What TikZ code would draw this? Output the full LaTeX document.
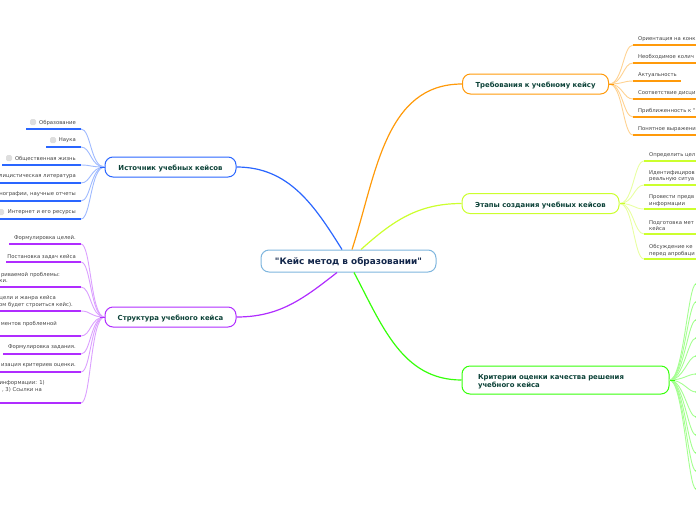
\documentclass[tikz,border=0pt]{standalone}
\usepackage{fontspec}
\setmainfont[Ligatures=TeXOff]{DejaVu Sans}

\definecolor{rootline}{HTML}{7FB6DE}
\definecolor{rootink}{HTML}{12264A}
\definecolor{headink}{HTML}{0C4238}
\definecolor{leafink}{HTML}{444444}
\definecolor{srccol}{HTML}{2A66FF}
\definecolor{strcol}{HTML}{B02DFF}
\definecolor{reqcol}{HTML}{FF9A0A}
\definecolor{stgcol}{HTML}{CCFF2E}
\definecolor{crtcol}{HTML}{36FF0A}

\tikzset{
  rootbox/.style={draw=rootline,line width=1pt,rounded corners=8pt,fill=white,text=rootink,
    font=\bfseries\fontsize{8.9}{10}\selectfont,minimum width=175pt,minimum height=22pt,inner sep=0pt,
    text height=8.5pt,text depth=2pt},
  headbox/.style={draw=#1,line width=1pt,rounded corners=8pt,fill=white,text=headink,
    font=\bfseries\fontsize{6.9}{8.4}\selectfont,inner sep=0pt,align=left},
  headline/.style={minimum width=#1,minimum height=20pt,align=center,text height=8.5pt,text depth=1.5pt},
  leaftext/.style={text=leafink,font=\fontsize{5.3}{7}\selectfont,inner sep=0pt},
  rule/.style={draw=#1,line width=1.4pt},
  twig/.style={draw=#1!45,line width=.9pt},
  limb/.style={draw=#1,line width=1.2pt},
  tick/.style={draw=none,fill=black!13,rounded corners=1.5pt,minimum size=6pt,inner sep=0pt}
}

\begin{document}
\begin{tikzpicture}[x=1pt,y=-1pt]
\useasboundingbox (0,0) rectangle (696,520);

% centre and branches
\node[rootbox] (root) at (348.5,261) {"Кейс метод в образовании"};
\node[headbox=srccol,headline=131pt] (source) at (170.5,167) {Источник учебных кейсов};
\node[headbox=strcol,headline=131pt] (struct) at (170.5,317) {Структура учебного кейса};
\node[headbox=reqcol,headline=146pt] (reqs) at (535.5,84) {Требования к учебному кейсу};
\node[headbox=stgcol,headline=157pt] (stages) at (540.5,203.5) {Этапы создания учебных кейсов};
\node[headbox=crtcol,minimum width=207pt,minimum height=28pt,text width=175pt] (crit) at (565.5,380) {\rule{0pt}{8.5pt}Критерии оценки качества решения\\учебного кейса};

% limbs
\path[limb=srccol] ([xshift=-6.5pt]root.north) to[out=122,in=0] (source.east);
\path[limb=reqcol] ([xshift=3.5pt]root.north) to[out=72,in=180] (reqs.west);
\path[limb=stgcol] ([xshift=12.5pt]root.north) to[out=42,in=180] (stages.west);
\path[limb=strcol] ([xshift=-11.5pt]root.south) to[out=218,in=0] (struct.east);
\path[limb=crtcol] ([xshift=5.5pt]root.south) to[out=-62,in=180] (crit.west);

% source leaves
\foreach \i/\y/\x/\t in {1/129/26/Образование,2/147/46/Наука,3/165/2/Общественная жизнь,
    4/183/0/лицистическая литература,5/201/0/{нографии, научные отчеты},6/219/0/Интернет и его ресурсы}{
  \coordinate (sj\i) at (81,\y);
  \coordinate (se\i) at (\x,\y);
  \path[twig=srccol] (source.west) to[out=180,in=0,out distance=14pt,in distance=10pt] (sj\i);
  \path[rule=srccol] (sj\i) -- (se\i);
  \node[leaftext,anchor=east] (sl\i) at (76,\y-6.5) {\t};
}
\path[rule=srccol,line width=1pt] (source.west) -- ++(-5,0);
\node[tick] (st1) at (33,122) {};
\node[tick] (st2) at (53,140) {};
\node[tick] (st3) at (9,158) {};
\node[tick] (st6) at (1,212) {};

% structure leaves
\foreach \i/\y/\x in {1/244/9,2/262/6,3/287/0,4/311/0,5/336/0,6/354/3,7/372/0,8/403/0}{
  \coordinate (tj\i) at (81,\y);
  \coordinate (te\i) at (\x,\y);
  \path[twig=strcol] (struct.west) to[out=180,in=0,out distance=14pt,in distance=10pt] (tj\i);
  \path[rule=strcol] (tj\i) -- (te\i);
}
\path[rule=strcol,line width=1pt] (struct.west) -- ++(-5,0);
\foreach \i/\y/\x/\t in {1/238.5/76/Формулировка целей.,2/256.5/76/Постановка задач кейса,
    3/274.5/60/риваемой проблемы:,4/281/8/ки.,5/298.5/56/цели и жанра кейса,
    6/305/73/ом будет строиться кейс).,7/323.5/57/ментов проблемной,8/347.5/76/Формулировка задания.,
    9/365.5/76/изация критериев оценки.,10/383.5/45/информации: 1),11/390/42/{, 3) Ссылки на}}{
  \node[leaftext,anchor=east] (tl\i) at (\x,\y) {\t};
}

% requirement leaves
\foreach \i/\y/\x/\t in {1/45/696/Ориентация на конк,2/63/696/Необходимое колич,3/81/681/Актуальность,
    4/99/696/Соответствие дисци,5/117/696/Приближенность к ",6/135/696/Понятное выражени}{
  \coordinate (rj\i) at (633,\y);
  \coordinate (re\i) at (\x,\y);
  \path[twig=reqcol] (reqs.east) to[out=0,in=180,out distance=14pt,in distance=10pt] (rj\i);
  \path[rule=reqcol] (rj\i) -- (re\i);
  \node[leaftext,anchor=west] (rl\i) at (638,\y-6) {\t};
}
\path[rule=reqcol,line width=1pt] (reqs.east) -- ++(5,0);

% stage leaves
\foreach \i/\y in {1/161,2/185,3/209,4/234,5/259}{
  \coordinate (gj\i) at (644,\y);
  \coordinate (ge\i) at (696,\y);
  \path[twig=stgcol] (stages.east) to[out=0,in=180,out distance=14pt,in distance=10pt] (gj\i);
  \path[rule=stgcol] (gj\i) -- (ge\i);
}
\path[rule=stgcol,line width=1pt] (stages.east) -- ++(5,0);
\foreach \i/\y/\t in {1/155.5/Определить цел,2/173.5/Идентифициров,3/179.5/реальную ситуа,4/197.5/Провести предв,
    5/204/информации,6/222.5/Подготовка мет,7/228.5/кейса,8/246.5/Обсуждение ке,9/253.5/перед апробаци}{
  \node[leaftext,anchor=west] (gl\i) at (649,\y) {\t};
}

% criteria twigs
\foreach \i/\y in {1/284,2/302,3/320,4/338,5/356,6/374,7/392,8/417,9/435,10/453,11/471,12/489}{
  \coordinate (cj\i) at (696,\y);
  \path[twig=crtcol] (crit.east) to[out=0,in=180,out distance=14pt,in distance=8pt] (cj\i);
  \fill[crtcol] (cj\i) circle (.7);
}
\path[rule=crtcol,line width=1pt] (crit.east) -- ++(5,0);

\end{tikzpicture}
\end{document}
